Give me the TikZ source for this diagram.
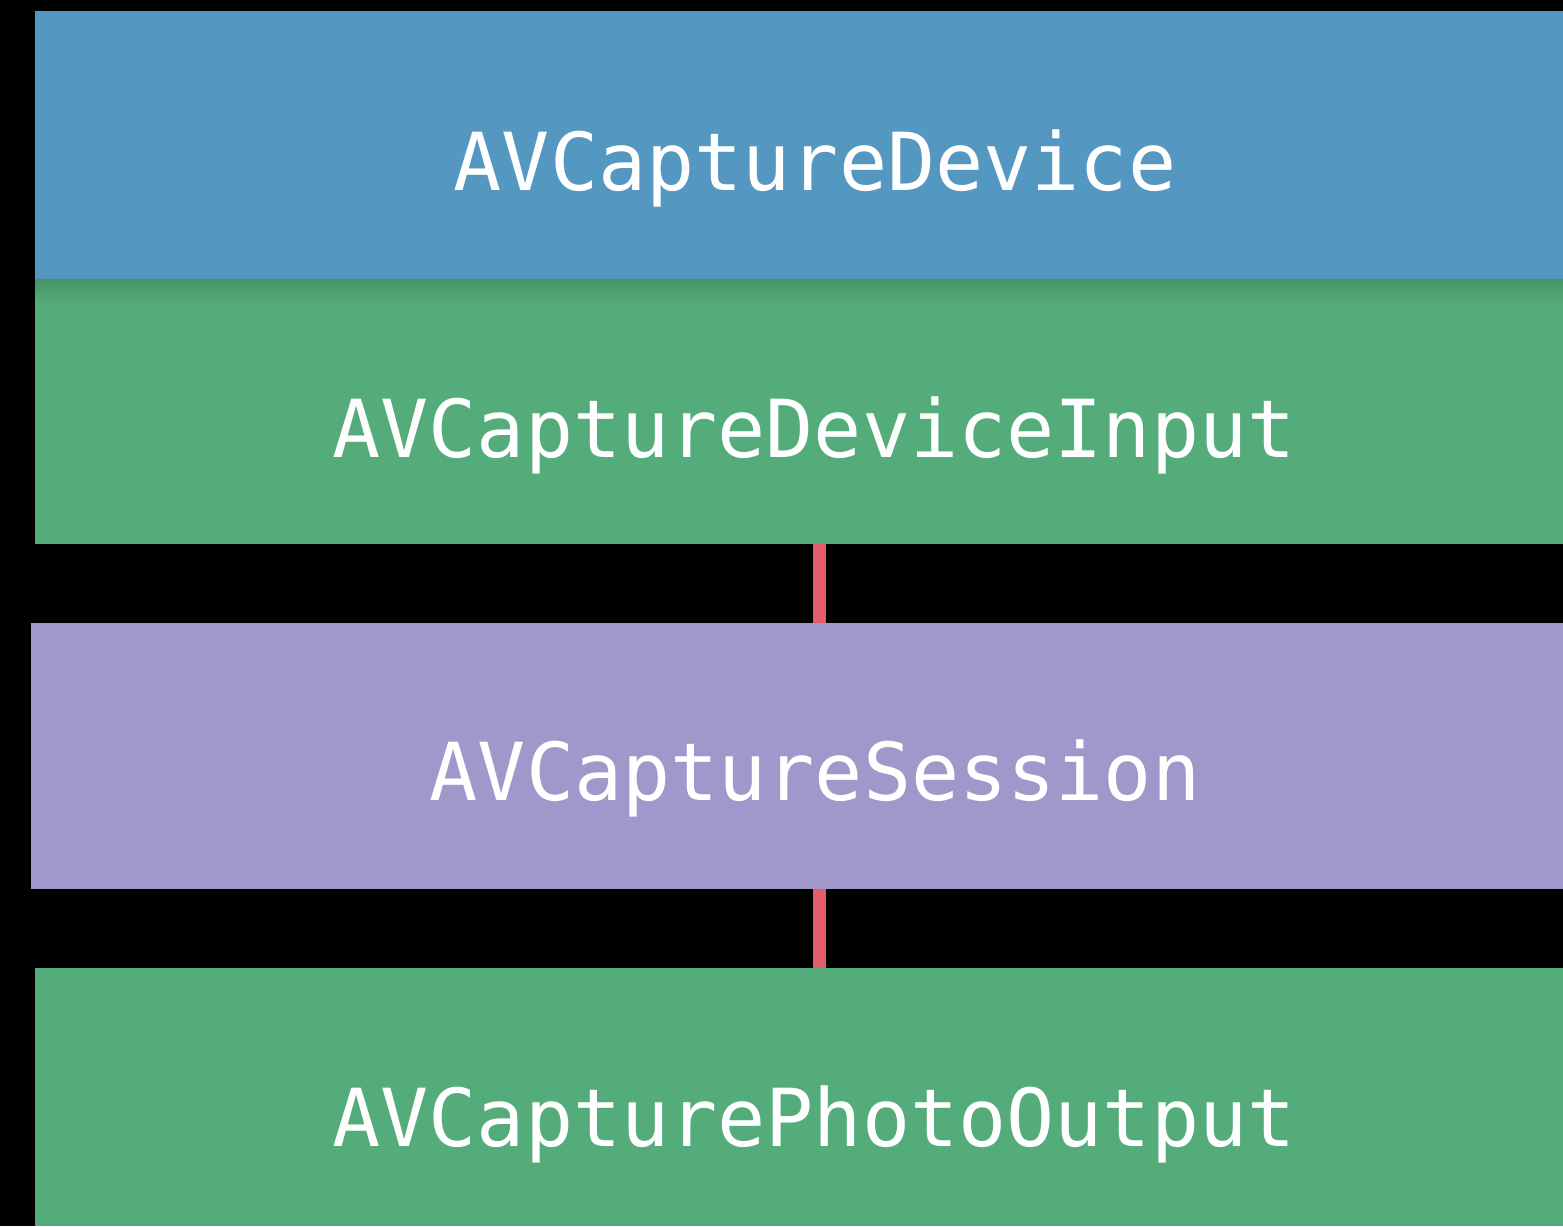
\documentclass[tikz,border=0pt]{standalone}
\usepackage{fontspec}
\setmonofont{DejaVu Sans Mono}
\definecolor{devblue}{RGB}{84,151,193}
\definecolor{ingreen}{RGB}{84,172,122}
\definecolor{ingreendark}{RGB}{72,146,104}
\definecolor{sesspurple}{RGB}{160,151,203}
\definecolor{linkred}{RGB}{228,92,106}
\tikzset{
  layer/.style={rectangle, inner sep=0pt, outer sep=0pt, draw=none},
  caption/.style={anchor=base, text=white, inner sep=0pt,
    font=\ttfamily\fontsize{80}{80}\selectfont},
  link/.style={draw=linkred, line width=13pt},
}
\begin{document}
\begin{tikzpicture}[x=1pt, y=-1pt]
  % black canvas
  \fill[black] (0,0) rectangle (1563,1226);
  \useasboundingbox (0,0) rectangle (1563,1226);

  % layers of the capture pipeline
  \node[layer, fill=ingreen, minimum width=1528pt, minimum height=265pt]
    (input) at (799,411.5) {};
  \shade[top color=ingreendark, bottom color=ingreen]
    (35,279) rectangle (1563,304);
  \node[layer, fill=devblue, minimum width=1528pt, minimum height=268pt]
    (device) at (799,145) {};
  \node[layer, fill=sesspurple, minimum width=1532pt, minimum height=266pt]
    (session) at (797,756) {};
  \node[layer, fill=ingreen, minimum width=1528pt, minimum height=258pt]
    (output) at (799,1097) {};

  % connectors between input, session and output
  \draw[link] ([xshift=20.5pt]input.south) -- ([xshift=22.5pt]session.north);
  \draw[link] ([xshift=22.5pt]session.south) -- ([xshift=20.5pt]output.north);

  % labels
  \node[caption] (tdevice)  at (815,190)  {AVCaptureDevice};
  \node[caption] (tinput)   at (814,457)  {AVCaptureDeviceInput};
  \node[caption] (tsession) at (815,800)  {AVCaptureSession};
  \node[caption] (toutput)  at (814,1146) {AVCapturePhotoOutput};
\end{tikzpicture}
\end{document}
